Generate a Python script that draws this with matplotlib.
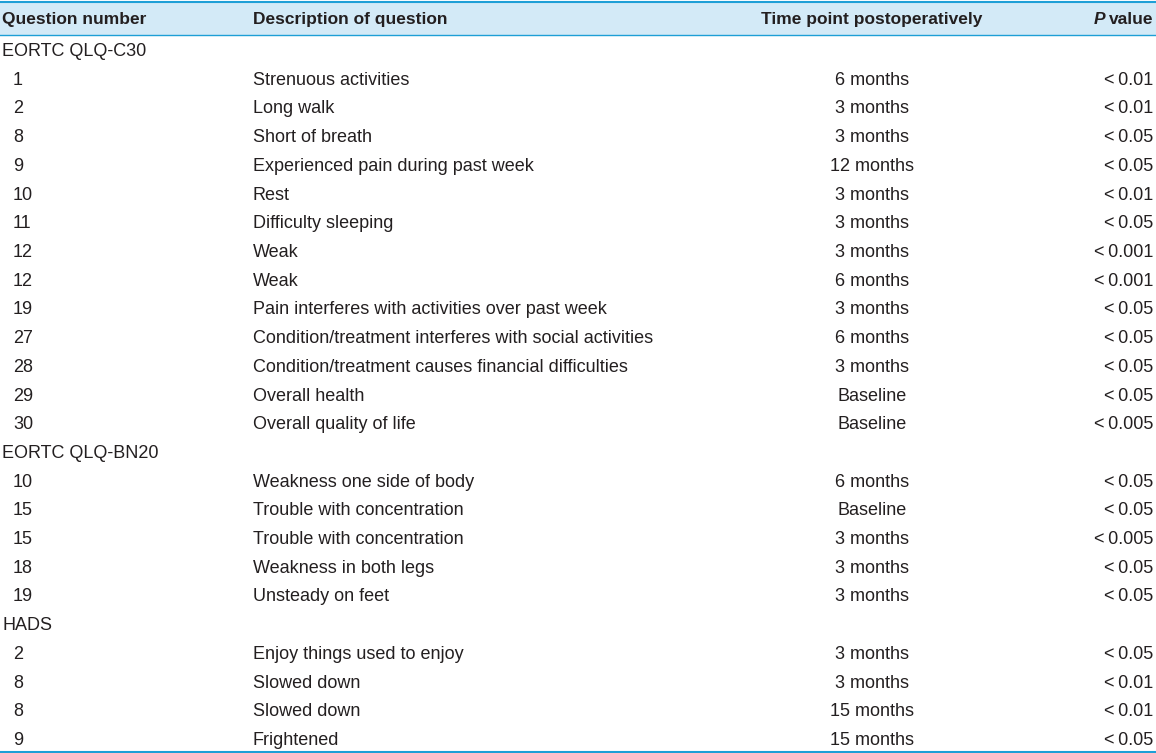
import matplotlib.pyplot as plt
from matplotlib.patches import Rectangle

# Datos de la tabla
encabezados = ['Question number', 'Description of question', 'Time point postoperatively', 'value']
grupos = ['EORTC QLQ-C30', 'EORTC QLQ-BN20', 'HADS']

numeros_c30 = ['1', '2', '8', '9', '10', '11', '12', '12', '19', '27', '28', '29', '30']
descripciones_c30 = ['Strenuous activities', 'Long walk', 'Short of breath',
                     'Experienced pain during past week', 'Rest', 'Difficulty sleeping',
                     'Weak', 'Weak', 'Pain interferes with activities over past week',
                     'Condition/treatment interferes with social activities',
                     'Condition/treatment causes financial difficulties',
                     'Overall health', 'Overall quality of life']
tiempos_c30 = ['6 months', '3 months', '3 months', '12 months', '3 months', '3 months',
               '3 months', '6 months', '3 months', '6 months', '3 months', 'Baseline', 'Baseline']
pvalores_c30 = ['<0.01', '<0.01', '<0.05', '<0.05', '<0.01', '<0.05', '<0.001', '<0.001',
                '<0.05', '<0.05', '<0.05', '<0.05', '<0.005']

numeros_bn20 = ['10', '15', '15', '18', '19']
descripciones_bn20 = ['Weakness one side of body', 'Trouble with concentration',
                      'Trouble with concentration', 'Weakness in both legs', 'Unsteady on feet']
tiempos_bn20 = ['6 months', 'Baseline', '3 months', '3 months', '3 months']
pvalores_bn20 = ['<0.05', '<0.05', '<0.005', '<0.05', '<0.05']

numeros_hads = ['2', '8', '8', '9']
descripciones_hads = ['Enjoy things used to enjoy', 'Slowed down', 'Slowed down', 'Frightened']
tiempos_hads = ['3 months', '3 months', '15 months', '15 months']
pvalores_hads = ['<0.05', '<0.01', '<0.01', '<0.05']

bloques = [
    (numeros_c30, descripciones_c30, tiempos_c30, pvalores_c30),
    (numeros_bn20, descripciones_bn20, tiempos_bn20, pvalores_bn20),
    (numeros_hads, descripciones_hads, tiempos_hads, pvalores_hads),
]

# Estilo
fuente = ['Liberation Sans', 'DejaVu Sans']
tam = 13
tam_enc = 12.5
color_texto = '#231f20'
color_linea = '#1e9fd6'
color_fondo = '#d3eaf7'

W, H = 1156, 753
fig = plt.figure(figsize=(W / 100, H / 100), dpi=100)
ax = fig.add_axes([0, 0, 1, 1])
ax.set_xlim(0, W)
ax.set_ylim(H, 0)
ax.axis('off')

# Encabezado
ax.add_patch(Rectangle((0, 2), W, 33, facecolor=color_fondo, edgecolor='none'))
ax.plot([0, W], [1.5, 1.5], color=color_linea, lw=1.5)
ax.plot([0, W], [35, 35], color=color_linea, lw=1.0)
ax.plot([0, W], [751.5, 751.5], color=color_linea, lw=1.5)

x_num, x_desc, x_tiempo, x_p = 13, 253, 872, 1153
y_enc = 19.5

kw_enc = dict(family=fuente, fontsize=tam_enc, color=color_texto, va='center', weight='bold')
ax.text(2, y_enc, encabezados[0], ha='left', **kw_enc)
ax.text(x_desc, y_enc, encabezados[1], ha='left', **kw_enc)
ax.text(x_tiempo, y_enc, encabezados[2], ha='center', **kw_enc)
t_val = ax.text(x_p, y_enc, encabezados[3], ha='right', **kw_enc)
fig.canvas.draw()
bb = t_val.get_window_extent()
ax.text(x_p - bb.width - 3, y_enc, 'P', style='italic', ha='right', **kw_enc)

# Filas
kw = dict(family=fuente, fontsize=tam, color=color_texto, va='center')
y0 = 51.5
paso = (739 - 50) / 24
fila = 0
for grupo, (nums, descs, tiempos, pvals) in zip(grupos, bloques):
    y = y0 + fila * paso
    ax.text(2, y, grupo, ha='left', **kw)
    fila += 1
    for n, d, t, p in zip(nums, descs, tiempos, pvals):
        y = y0 + fila * paso
        ax.text(x_num, y, n, ha='left', **kw)
        ax.text(x_desc, y, d, ha='left', **kw)
        ax.text(x_tiempo, y, t, ha='center', **kw)
        ax.text(x_p, y, p.replace('<', '<\u2009'), ha='right', **kw)
        fila += 1

fig.savefig('out.png', dpi=100)
